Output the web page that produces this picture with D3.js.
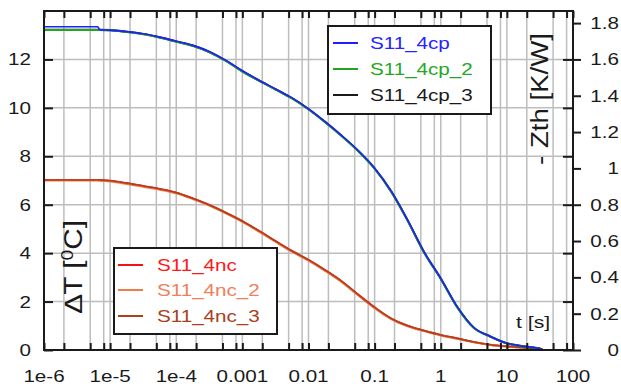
<!DOCTYPE html>
<html>
<head>
<meta charset="utf-8">
<script src="https://cdn.jsdelivr.net/npm/d3@7/dist/d3.min.js"></script>
<style>
  html, body { margin: 0; padding: 0; background: #fff; }
  svg { display: block; }
  text { font-family: Arial, "Liberation Sans", sans-serif; }
</style>
</head>
<body>
<svg id="chart" width="621" height="388"></svg>
<script>
// Time axis samples (s), shared by all curves
const times = [1e-6, 3.16e-6, 6.5e-6, 7e-6, 1e-5, 1.78e-5, 3.16e-5, 5.62e-5,
  1e-4, 1.78e-4, 3.16e-4, 5.62e-4, 1e-3, 1.78e-3, 3.16e-3, 5.62e-3,
  0.01, 0.0178, 0.0316, 0.0562, 0.1, 0.178, 0.316, 0.562,
  1, 1.78, 3.16, 5.62, 10, 17.8, 31.6, 35];

// Cooling curves, ΔT in °C
const s11_4cp = [13.35, 13.35, 13.35, 13.22, 13.21, 13.15, 13.06, 12.92,
  12.75, 12.58, 12.33, 11.96, 11.53, 11.14, 10.78, 10.41,
  9.96, 9.43, 8.86, 8.24, 7.51, 6.56, 5.36, 4.04,
  2.96, 1.78, 0.93, 0.56, 0.28, 0.15, 0.05, 0.0];
const s11_4cp_2 = [13.22, 13.22, 13.22, 13.22, 13.2, 13.13, 13.04, 12.9,
  12.73, 12.56, 12.3, 11.94, 11.5, 11.12, 10.76, 10.39,
  9.94, 9.41, 8.84, 8.22, 7.49, 6.54, 5.34, 4.02,
  2.94, 1.76, 0.91, 0.55, 0.27, 0.14, 0.04, 0.0];
const s11_4cp_3 = [13.22, 13.22, 13.22, 13.22, 13.21, 13.14, 13.05, 12.91,
  12.74, 12.57, 12.31, 11.95, 11.51, 11.13, 10.77, 10.4,
  9.95, 9.42, 8.85, 8.23, 7.5, 6.55, 5.35, 4.03,
  2.95, 1.77, 0.92, 0.56, 0.28, 0.15, 0.05, 0.0];

const s11_4nc = [7.02, 7.02, 7.02, 7.02, 6.99, 6.89, 6.77, 6.65,
  6.5, 6.26, 5.99, 5.67, 5.32, 4.92, 4.5, 4.09,
  3.72, 3.3, 2.84, 2.29, 1.76, 1.3, 1.0, 0.8,
  0.62, 0.48, 0.33, 0.22, 0.15, 0.1, 0.06, 0.0];
const s11_4nc_2 = [7.0, 7.0, 7.0, 6.99, 6.96, 6.86, 6.74, 6.62,
  6.47, 6.23, 5.96, 5.64, 5.29, 4.89, 4.47, 4.06,
  3.69, 3.27, 2.81, 2.26, 1.73, 1.28, 0.98, 0.78,
  0.6, 0.46, 0.32, 0.21, 0.14, 0.09, 0.05, 0.0];
const s11_4nc_3 = [7.02, 7.02, 7.02, 7.02, 6.99, 6.89, 6.77, 6.65,
  6.5, 6.26, 5.99, 5.67, 5.32, 4.92, 4.5, 4.09,
  3.72, 3.3, 2.84, 2.29, 1.76, 1.3, 1.0, 0.8,
  0.62, 0.48, 0.33, 0.22, 0.15, 0.1, 0.06, 0.0];

// Axis ticks
const xMajorTicks = [1e-6, 1e-5, 1e-4, 1e-3, 0.01, 0.1, 1, 10, 100];
const xTickLabels = ["1e-6", "1e-5", "1e-4", "0.001", "0.01", "0.1", "1", "10", "100"];
const xMinorSteps = [2, 5, 8];
const yLeftTicks = [0, 2, 4, 6, 8, 10, 12];
const yRightTicks = [0, 0.2, 0.4, 0.6, 0.8, 1, 1.2, 1.4, 1.6, 1.8];
const yRightLabels = ["0", "0.2", "0.4", "0.6", "0.8", "1", "1.2", "1.4", "1.6", "1.8"];
const power = 7.5; // W, relates ΔT to Zth

const seriesNames = ["S11_4cp", "S11_4cp_2", "S11_4cp_3", "S11_4nc", "S11_4nc_2", "S11_4nc_3"];
const seriesValues = [s11_4cp, s11_4cp_2, s11_4cp_3, s11_4nc, s11_4nc_2, s11_4nc_3];
const seriesColors = ["#1f1fff", "#1fa81f", "#1a1a1a", "#f21414", "#f07a4a", "#b0401a"];
const legendTextColors = ["#2424ff", "#24a824", "#1a1a1a", "#ff1818", "#f0805a", "#a8401c"];

const svg = d3.select("#chart");
const L = 44, R = 573, T = 11, B = 350;
const SX = 1.25; // horizontal text stretch

const x = d3.scaleLog().domain([1e-6, 100]).range([L, R]);
const y = d3.scaleLinear().domain([0, 14]).range([B, T]);
const y2 = d3.scaleLinear().domain([0, 14 / power]).range([B, T]);

const allXTicks = [];
xMajorTicks.forEach((d, i) => {
  allXTicks.push(d);
  if (i < xMajorTicks.length - 1) xMinorSteps.forEach(m => allXTicks.push(d * m));
});

// Gridlines
const grid = svg.append("g").attr("stroke", "#bdbdbd").attr("stroke-width", 1.5);
grid.selectAll("line.v").data(allXTicks.filter(d => d > 1e-6 && d < 100)).join("line")
  .attr("x1", d => x(d)).attr("x2", d => x(d)).attr("y1", T).attr("y2", B);
grid.selectAll("line.h").data(yLeftTicks.filter(d => d > 0)).join("line")
  .attr("x1", L).attr("x2", R).attr("y1", d => y(d)).attr("y2", d => y(d));

// Curves
const line = vals => d3.line()
  .x((d, i) => x(times[i]))
  .y(d => y(d))
  .curve(d3.curveMonotoneX)(vals);
const drawOrder = [3, 4, 5, 2, 1, 0];
const widths = [1.6, 2, 2.2, 2, 2, 1.6];
drawOrder.forEach(i => {
  svg.append("path").attr("d", line(seriesValues[i]))
    .attr("fill", "none").attr("stroke", seriesColors[i])
    .attr("stroke-width", widths[i]).attr("stroke-linejoin", "round");
});

// Frame and ticks
const frame = svg.append("g").attr("stroke", "#1a1a1a").attr("stroke-width", 2).attr("fill", "none");
frame.append("rect").attr("x", L).attr("y", T).attr("width", R - L).attr("height", B - T);
const xAxisB = d3.axisBottom(x).tickValues(allXTicks).tickSize(-7).tickFormat("");
const xAxisT = d3.axisTop(x).tickValues(allXTicks).tickSize(-7).tickFormat("");
const yAxisL = d3.axisLeft(y).tickValues(yLeftTicks).tickSize(-9).tickFormat("");
const yAxisRin = d3.axisRight(y).tickValues(yLeftTicks).tickSize(-10).tickFormat("");
const yAxisR = d3.axisRight(y2).tickValues(yRightTicks).tickSize(8).tickFormat("");
[[xAxisB, `translate(0,${B})`], [xAxisT, `translate(0,${T})`], [yAxisL, `translate(${L},0)`],
 [yAxisRin, `translate(${R},0)`], [yAxisR, `translate(${R},0)`]].forEach(([ax, tr]) => {
  const g = svg.append("g").attr("transform", tr).call(ax);
  g.select(".domain").remove();
  g.selectAll(".tick line").attr("stroke", "#1a1a1a").attr("stroke-width", 2);
});

// Stretched text helper
function label(parent, px, py, str, anchor, color, size, rot) {
  return parent.append("text")
    .attr("transform", `translate(${px},${py}) scale(${SX},1)` + (rot ? ` rotate(${rot})` : ""))
    .attr("text-anchor", anchor || "start")
    .attr("fill", color || "#1a1a1a")
    .attr("font-size", size || 16.5)
    .text(str);
}

// Tick labels
xMajorTicks.forEach((d, i) => label(svg, x(d), 382, xTickLabels[i], "middle"));
yLeftTicks.forEach(d => label(svg, 31, y(d) + 6, String(d), "end"));
yRightTicks.forEach((d, i) => label(svg, 619, y2(d) + 6, yRightLabels[i], "end"));

// Axis titles
const lt = label(svg, 82, 266.5, "", "middle", "#1a1a1a", 20, -90)
  .attr("textLength", 93).attr("lengthAdjust", "spacingAndGlyphs");
lt.append("tspan").text("∆T [");
lt.append("tspan").attr("font-size", 13).attr("dy", -7).text("0");
lt.append("tspan").attr("dy", 7).text("C]");

label(svg, 548, 99, "- Zth [K/W]", "middle", "#1a1a1a", 19, -90)
  .attr("textLength", 132).attr("lengthAdjust", "spacingAndGlyphs");

label(svg, 516, 328, "t [s]", "start", "#1a1a1a", 17);

// Legends
function legend(bx, by, bw, bh, rows, lineX0, lineX1, textX, idx) {
  const g = svg.append("g");
  g.append("rect").attr("x", bx).attr("y", by).attr("width", bw).attr("height", bh)
    .attr("fill", "#fff").attr("stroke", "#1a1a1a").attr("stroke-width", 2);
  idx.forEach((k, j) => {
    g.append("line").attr("x1", lineX0).attr("x2", lineX1)
      .attr("y1", rows[j]).attr("y2", rows[j])
      .attr("stroke", seriesColors[k]).attr("stroke-width", 2);
    label(g, textX, rows[j] + 6, seriesNames[k], "start", legendTextColors[k]);
  });
}
legend(328, 26, 163, 88, [43, 69, 95], 333, 358, 370, [0, 1, 2]);
legend(114, 248, 163, 86, [265, 290, 316], 118, 143, 157, [3, 4, 5]);
</script>
</body>
</html>
